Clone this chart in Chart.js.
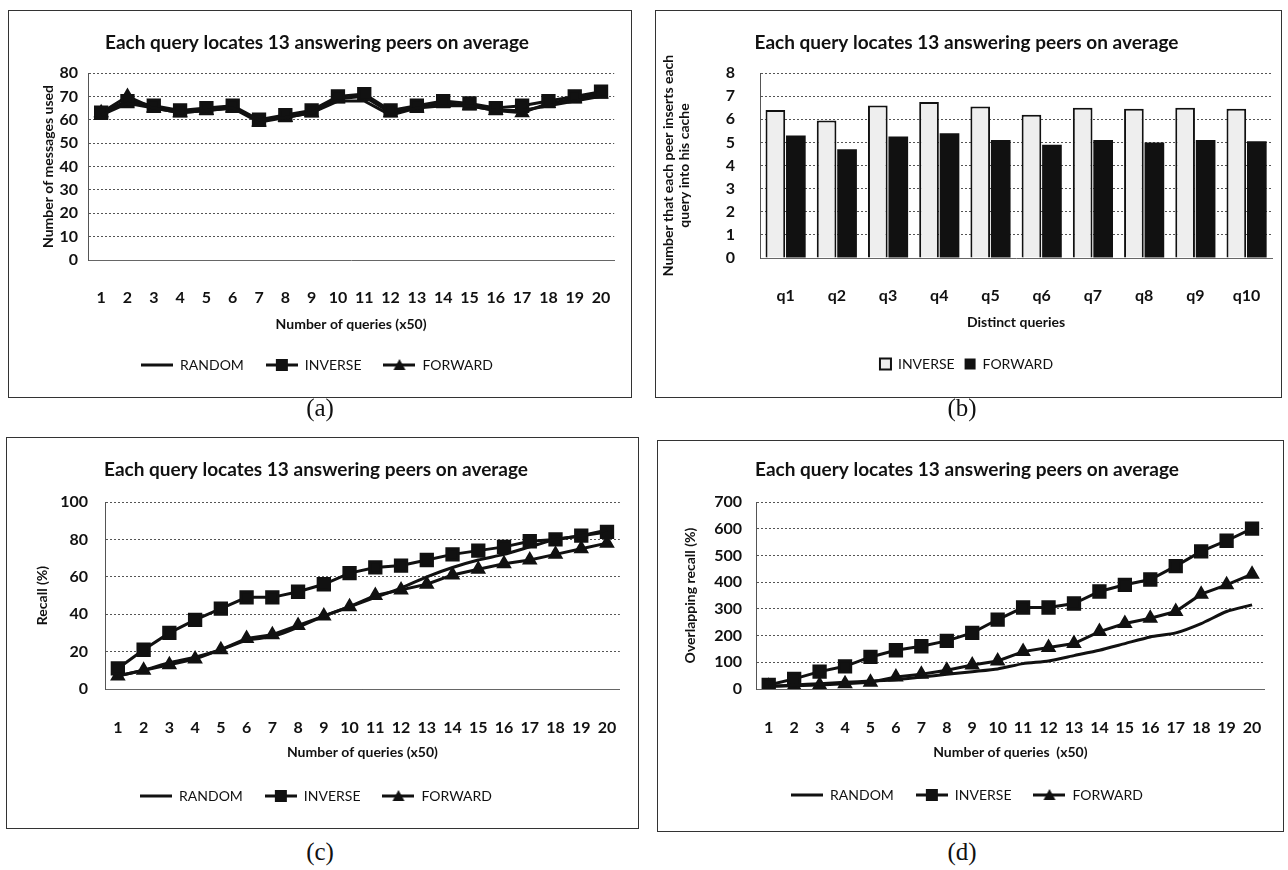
<!DOCTYPE html>
<html>
<head>
<meta charset="utf-8">
<script src="https://cdn.jsdelivr.net/npm/chart.js@4.4.0/dist/chart.umd.min.js"></script>
<style>
body { margin: 0; background: #fff; width: 1288px; height: 870px; position: relative; overflow: hidden; }
.panel { position: absolute; border: 1px solid #333; }
.panel canvas { position: absolute; left: 0; top: 0; }
.cap { position: absolute; width: 60px; text-align: center; font-family: "Liberation Serif", serif; font-size: 25px; line-height: 28px; color: #111; }
</style>
</head>
<body>
<div class="panel" id="boxA"><canvas id="chartA"></canvas></div>
<div class="panel" id="boxB"><canvas id="chartB"></canvas></div>
<div class="panel" id="boxC"><canvas id="chartC"></canvas></div>
<div class="panel" id="boxD"><canvas id="chartD"></canvas></div>
<div class="cap" style="left:290px;top:394px">(a)</div>
<div class="cap" style="left:932px;top:394px">(b)</div>
<div class="cap" style="left:290px;top:838px">(c)</div>
<div class="cap" style="left:932px;top:838px">(d)</div>
<script>
const chartTitle = 'Each query locates 13 answering peers on average';
const queryLabels = ['1', '2', '3', '4', '5', '6', '7', '8', '9', '10', '11', '12', '13', '14', '15', '16', '17', '18', '19', '20'];
const distinctQueries = ['q1', 'q2', 'q3', 'q4', 'q5', 'q6', 'q7', 'q8', 'q9', 'q10'];

// (a) messages used
const msgRandom = [62, 67, 65, 63, 64, 65, 60, 61, 63, 68, 68, 62, 65, 66, 66, 64, 64, 66, 68, 70];
const msgInverse = [63, 68, 66, 64, 65, 66, 60, 62, 64, 70, 71, 64, 66, 68, 67, 65, 66, 68, 70, 72];
const msgForward = [63, 70, 65, 63, 64, 65, 59, 61, 63, 69, 70, 63, 65, 67, 66, 64, 63, 67, 69, 71];

// (b) inserts per distinct query
const insInverse = [6.4, 5.95, 6.6, 6.75, 6.55, 6.2, 6.5, 6.45, 6.5, 6.45];
const insForward = [5.3, 4.7, 5.25, 5.4, 5.1, 4.9, 5.1, 5.0, 5.1, 5.05];

// (c) recall
const recRandom = [7, 10, 14, 17, 21, 26, 28, 33, 39, 44, 49, 54, 60, 65, 69, 72, 76, 80, 82, 85];
const recInverse = [11, 21, 30, 37, 43, 49, 49, 52, 56, 62, 65, 66, 69, 72, 74, 76, 79, 80, 82, 84];
const recForward = [7, 10, 13, 16, 21, 27, 29, 34, 39, 44, 50, 53, 56, 61, 64, 67, 69, 72, 75, 78];

// (d) overlapping recall
const ovRandom = [10, 15, 20, 25, 30, 35, 45, 55, 65, 75, 95, 105, 125, 145, 170, 195, 210, 245, 290, 315];
const ovInverse = [15, 38, 65, 85, 120, 145, 160, 180, 210, 260, 305, 305, 320, 365, 390, 410, 460, 515, 555, 600];
const ovForward = [10, 12, 15, 20, 25, 45, 55, 70, 90, 105, 140, 155, 170, 215, 245, 265, 290, 355, 390, 430];

const FONT = 'Lato, "Open Sans", sans-serif';
const INK = '#111';

function makeIcon(style) {
    const c = document.createElement('canvas');
    c.width = 32; c.height = 14;
    const g = c.getContext('2d');
    g.strokeStyle = INK; g.lineWidth = 3;
    g.beginPath(); g.moveTo(0, 7); g.lineTo(32, 7); g.stroke();
    g.fillStyle = INK;
    if (style == 'rect') g.fillRect(10, 1, 12, 12);
    if (style == 'triangle') { g.beginPath(); g.moveTo(16, 1); g.lineTo(22, 12); g.lineTo(10, 12); g.closePath(); g.fill(); }
    return c;
}
const lineIcons = [makeIcon('line'), makeIcon('rect'), makeIcon('triangle')];

function buildOptions(p, yMax, yStep, yTitle, xTitle, lineLegend) {
    const ox = p.box[0] + 1, oy = p.box[1] + 1;
    const w = p.box[2] - 2, h = p.box[3] - 2;
    const plotLeft = p.plotLeft - ox, plotRight = p.plotRight - ox;
    const plotTop = p.plotTop - oy, plotBottom = p.plotBottom - oy;
    const legPad = lineLegend ? 22 : 10;
    const legendTop = p.legendY - oy - legPad - 7;
    const titleY = p.titleY - oy;
    const legendLabels = {
        color: INK,
        font: { family: FONT, size: 14 },
        padding: legPad
    };
    if (lineLegend) {
        legendLabels.usePointStyle = true;
        legendLabels.pointStyleWidth = 32;
        legendLabels.generateLabels = function(chart) {
            return Chart.defaults.plugins.legend.labels.generateLabels(chart).map(function(l, i) {
                l.pointStyle = lineIcons[i];
                return l;
            });
        };
    } else {
        legendLabels.boxWidth = 11;
        legendLabels.boxHeight = 11;
    }
    return {
        responsive: false,
        animation: false,
        layout: { padding: { left: 0, top: 0, right: w - plotRight, bottom: h - legendTop - (14 + legPad + 10) } },
        plugins: {
            title: {
                display: true,
                text: chartTitle,
                color: INK,
                font: { family: FONT, size: 19, weight: 'bold' },
                padding: { top: titleY - 11.4, bottom: plotTop - titleY - 11.4 }
            },
            legend: { position: 'bottom', labels: legendLabels },
            tooltip: { enabled: false }
        },
        scales: {
            x: {
                offset: true,
                afterFit: function(s) { s.height = legendTop - plotBottom; },
                grid: { display: false },
                border: { display: true, color: '#666', dash: [2, 2] },
                ticks: {
                    color: INK,
                    font: { family: FONT, size: 16, weight: 'bold' },
                    padding: p.tickY - oy - plotBottom - 9.6,
                    maxRotation: 0,
                    autoSkip: false
                },
                title: {
                    display: true,
                    text: xTitle,
                    color: INK,
                    font: { family: FONT, size: 14, weight: 'bold' },
                    padding: { top: 0, bottom: legendTop - (p.xTitleY - oy) - 8.4 }
                }
            },
            y: {
                min: 0,
                max: yMax,
                afterFit: function(s) { s.width = plotLeft; },
                grid: { color: '#555', drawTicks: false },
                border: { display: true, color: '#555', dash: [2, 2] },
                ticks: {
                    stepSize: yStep,
                    color: INK,
                    font: { family: FONT, size: 16, weight: 'bold' },
                    padding: plotLeft - (p.tickRight - ox)
                },
                title: {
                    display: true,
                    text: yTitle,
                    color: INK,
                    font: { family: FONT, size: 14, weight: 'bold' },
                    padding: { top: p.yTitleX - ox - 8.4, bottom: 0 }
                }
            }
        }
    };
}

function lineSets(rnd, inv, fwd, smooth) {
    return [{
        label: 'RANDOM',
        data: rnd,
        borderColor: INK,
        borderWidth: 3,
        pointRadius: 0,
        tension: smooth
    },
    {
        label: 'INVERSE',
        data: inv,
        borderColor: INK,
        backgroundColor: INK,
        borderWidth: 3,
        pointStyle: 'rect',
        pointRadius: 8,
        pointBackgroundColor: INK,
        pointBorderColor: INK
    },
    {
        label: 'FORWARD',
        data: fwd,
        borderColor: INK,
        backgroundColor: INK,
        borderWidth: 3,
        pointStyle: 'triangle',
        pointRadius: 6,
        pointBackgroundColor: INK,
        pointBorderColor: INK
    }]
}

function setupBox(id, canvasId, p) {
    const box = document.getElementById(id);
    box.style.left = p.box[0] + 'px';
    box.style.top = p.box[1] + 'px';
    box.style.width = (p.box[2] - 2) + 'px';
    box.style.height = (p.box[3] - 2) + 'px';
    const cv = document.getElementById(canvasId);
    cv.width = p.box[2] - 2;
    cv.height = p.box[3] - 2;
}

const posA = { box: [8, 10, 624, 388], plotLeft: 88, plotRight: 625, plotTop: 73, plotBottom: 260, titleY: 43, tickY: 290, xTitleY: 324, legendY: 365, yTitleX: 48, tickRight: 78 };
const posB = { box: [655, 10, 627, 388], plotLeft: 760, plotRight: 1277, plotTop: 73, plotBottom: 258, titleY: 43, tickY: 288, xTitleY: 322, legendY: 364, yTitleX: 668, tickRight: 735 };
const posC = { box: [6, 437, 633, 392], plotLeft: 105, plotRight: 625, plotTop: 502, plotBottom: 689, titleY: 470, tickY: 720, xTitleY: 752, legendY: 796, yTitleX: 42, tickRight: 88 };
const posD = { box: [657, 440, 627, 392], plotLeft: 756, plotRight: 1276, plotTop: 502, plotBottom: 689, titleY: 470, tickY: 720, xTitleY: 752, legendY: 795, yTitleX: 690, tickRight: 742 };

setupBox('boxA', 'chartA', posA);
setupBox('boxB', 'chartB', posB);
setupBox('boxC', 'chartC', posC);
setupBox('boxD', 'chartD', posD);

new Chart('chartA', {
    type: 'line',
    data: { labels: queryLabels, datasets: lineSets(msgRandom, msgInverse, msgForward, 0) },
    options: buildOptions(posA, 80, 10, 'Number of messages used', 'Number of queries (x50)', true)
});

const optB = buildOptions(posB, 8, 1, ['Number that each peer inserts each', 'query into his cache'], 'Distinct queries', false);
new Chart('chartB', {
    type: 'bar',
    data: {
        labels: distinctQueries,
        datasets: [{
            label: 'INVERSE',
            data: insInverse,
            backgroundColor: '#eeeeee',
            borderColor: INK,
            borderWidth: 2,
            categoryPercentage: 0.8,
            barPercentage: 0.96
        },
        {
            label: 'FORWARD',
            data: insForward,
            backgroundColor: INK,
            borderColor: INK,
            borderWidth: 0,
            categoryPercentage: 0.8,
            barPercentage: 0.96
        }]
    },
    options: optB
});

new Chart('chartC', {
    type: 'line',
    data: { labels: queryLabels, datasets: lineSets(recRandom, recInverse, recForward, 0.2) },
    options: buildOptions(posC, 100, 20, 'Recall (%)', 'Number of queries (x50)', true)
});

new Chart('chartD', {
    type: 'line',
    data: { labels: queryLabels, datasets: lineSets(ovRandom, ovInverse, ovForward, 0.2) },
    options: buildOptions(posD, 700, 100, 'Overlapping recall (%)', 'Number of queries  (x50)', true)
});
</script>
</body>
</html>
